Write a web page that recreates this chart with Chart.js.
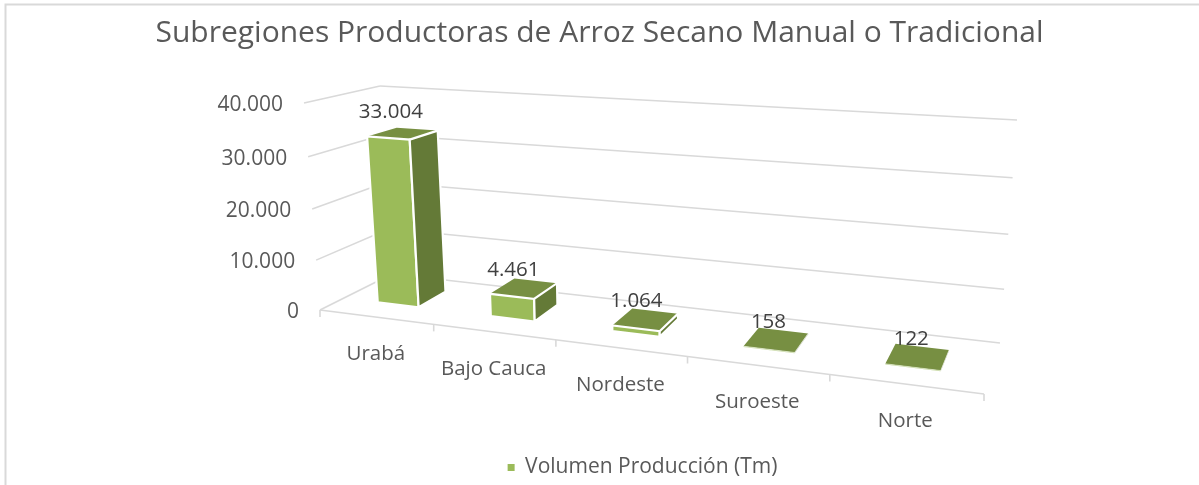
<!DOCTYPE html>
<html><head><meta charset="utf-8">
<style>html,body{margin:0;padding:0;background:#fff}canvas{display:block}</style>
<script src="https://cdn.jsdelivr.net/npm/chart.js@4"></script>
</head><body><canvas id="c" width="1199" height="485"></canvas>
<script>
const categories = ['Urabá','Bajo Cauca','Nordeste','Suroeste','Norte'];
const seriesName = 'Volumen Producción (Tm)';
const values = [33004,4461,1064,158,122];
const chartTitle = 'Subregiones Productoras de Arroz Secano Manual o Tradicional';
const FONT = '"Open Sans"';

// Projection of the flat scale space on to the tilted 3D box
const P = {FL:[320,310],FR:[984,394],BL:[392,274],BR:[1000,343],
  hFL:[-16,-207],hFR:[18,-245],hBL:[-12,-188],hBR:[17,-223],K:1.21,H:1.05,W0:.33,W1:.74};
const lerp=(a,b,t)=>[a[0]+(b[0]-a[0])*t,a[1]+(b[1]-a[1])*t];
function proj(u,v,w){
  const s=u/(u+P.K*(1-u)), vv=v/(v+P.H*(1-v));
  const f=lerp(P.FL,P.FR,s), b=lerp(P.BL,P.BR,s), p=lerp(f,b,w);
  const hf=lerp(P.hFL,P.hFR,s), hb=lerp(P.hBL,P.hBR,s), h=lerp(hf,hb,w);
  return [p[0]+h[0]*vv,p[1]+h[1]*vv];
}
function line(ctx,a,b){ctx.beginPath();ctx.moveTo(a[0],a[1]);ctx.lineTo(b[0],b[1]);ctx.stroke();}
function face(ctx,pts,fill,lw){
  ctx.beginPath();pts.forEach((p,i)=>i?ctx.lineTo(p[0],p[1]):ctx.moveTo(p[0],p[1]));ctx.closePath();
  ctx.fillStyle=fill;ctx.fill();
  if(lw>0){ctx.strokeStyle='#fff';ctx.lineWidth=lw;ctx.lineJoin='miter';ctx.stroke();}
}
const fmt=n=>String(n).replace(/\B(?=(\d{3})+$)/g,'.');
const box3d={id:'box3d',
  beforeDraw(chart){
    const {ctx}=chart;ctx.save();
    ctx.strokeStyle='#D9D9D9';ctx.lineWidth=2;
    ctx.beginPath();ctx.moveTo(5.5,485);ctx.lineTo(5.5,4.5);ctx.lineTo(1199,4.5);ctx.stroke();
    ctx.restore();
  },
  beforeDatasetsDraw(chart){
    const {ctx,chartArea:A,scales}=chart;
    const U=x=>(x-A.left)/(A.right-A.left), V=y=>(A.bottom-y)/(A.bottom-A.top);
    ctx.save();
    ctx.strokeStyle='#D9D9D9';ctx.lineWidth=1.6;
    const y=scales.y,x=scales.x;
    y.ticks.forEach(t=>{
      const v=V(y.getPixelForValue(t.value));
      line(ctx,proj(0,v,0),proj(0,v,1));
      line(ctx,proj(0,v,1),proj(1,v,1));
    });
    line(ctx,proj(0,0,0),proj(1,0,0));
    for(let i=0;i<=categories.length;i++){
      const u=i/categories.length,a=proj(u,0,0);
      line(ctx,a,[a[0],a[1]+7]);
    }
    ctx.textAlign='right';ctx.textBaseline='middle';ctx.fillStyle='#595959';ctx.font='21px '+FONT;
    y.ticks.forEach(t=>{
      const v=V(y.getPixelForValue(t.value)),a=proj(0,v,0);
      ctx.fillText(t.label,a[0]-21,a[1]+2);
    });
    ctx.textAlign='center';ctx.font='20.5px '+FONT;
    x.ticks.forEach((t,i)=>{
      const a=proj(U(x.getPixelForTick(i)),0,0);
      ctx.fillText(categories[t.value],a[0],a[1]+37);
    });
    const meta=chart.getDatasetMeta(0);
    const d=chart.data.datasets[0];
    meta.data.forEach(el=>{
      const u0=U(el.x-el.width/2),u1=U(el.x+el.width/2),v=V(el.y),b=V(el.base);
      const w0=P.W0,w1=P.W1;
      const a=proj(u0,b,w0),c=proj(u1,b,w0),e=proj(u1,v,w0),g=proj(u0,v,w0);
      const c2=proj(u1,b,w1),e2=proj(u1,v,w1),g2=proj(u0,v,w1);
      const lw=Math.min(2.2,Math.abs(a[1]-g[1])*.6);
      face(ctx,[g,g2,e2,e],d.topColor,0);
      face(ctx,[a,c,e,g],d.backgroundColor,lw);
      face(ctx,[c,c2,e2,e],d.sideColor,lw);
    });
    ctx.fillStyle='#404040';ctx.font='20.5px '+FONT;
    meta.data.forEach((el,i)=>{
      const uc=U(el.x),v=V(el.y),a=proj(uc,v,(P.W0+P.W1)/2);
      ctx.fillText(fmt(values[i]),a[0]-12.5+7*uc,a[1]-18-4*v);
    });
    ctx.restore();
    return false;
  },
  afterLayout(chart){
    chart.legend.left+=43;chart.legend.right+=43;
    chart.legend.top+=3;chart.legend.bottom+=3;
  }
};
Chart.defaults.animation=false;
new Chart(document.getElementById('c'),{
  type:'bar',
  data:{labels:categories,datasets:[{label:seriesName,data:values,backgroundColor:'#9BBB59',sideColor:'#647A37',topColor:'#778F42',barPercentage:.37,categoryPercentage:1}]},
  options:{responsive:false,animation:false,
    layout:{padding:{left:100,right:100,top:0,bottom:0}},
    plugins:{
      title:{display:true,text:chartTitle,color:'#595959',font:{family:FONT,size:30,weight:'normal'},padding:{top:15,bottom:28}},
      legend:{position:'bottom',labels:{usePointStyle:true,pointStyle:'rect',boxWidth:7,boxHeight:7,color:'#595959',font:{family:FONT,size:21},padding:10}},
      tooltip:{enabled:false}
    },
    scales:{
      x:{display:false},
      y:{display:false,min:0,max:40000,ticks:{stepSize:10000,callback:v=>fmt(v)}}
    }
  },
  plugins:[box3d]
});
</script></body></html>
